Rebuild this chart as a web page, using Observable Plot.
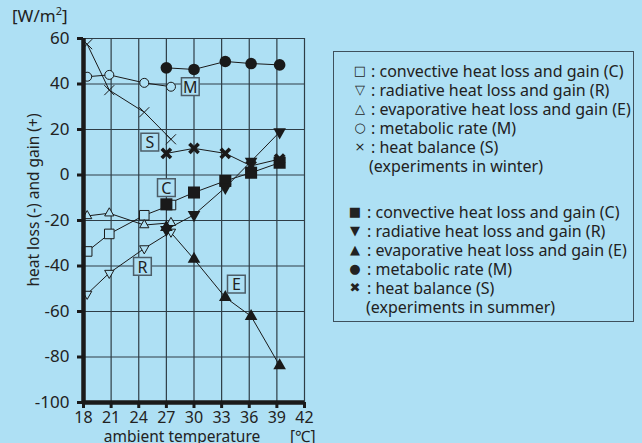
<!DOCTYPE html>
<html><head><meta charset="utf-8">
<script src="https://cdn.jsdelivr.net/npm/d3@7"></script>
<script src="https://cdn.jsdelivr.net/npm/@observablehq/plot@0.6"></script>
<style>
html,body{margin:0;padding:0;background:#aee0f4;}
#wrap{position:relative;width:642px;height:443px;overflow:hidden;font-family:"Noto Sans",sans-serif;color:#222;}
#wrap svg{position:absolute;left:0;top:0;}
.t{position:absolute;white-space:nowrap;font-size:16px;line-height:18px;}
#legend{position:absolute;left:333px;top:51px;width:301px;height:271px;border:1.5px solid #3e505c;box-sizing:border-box;}
.sym{position:absolute;width:14px;text-align:center;font-size:13px;line-height:18px;font-family:"DejaVu Sans",sans-serif;}
</style></head><body>
<div id="wrap"></div>
<script>
// ---- data ----
const winterTemp = [18.4, 20.8, 24.6, 27.5];
const winterC = [-33.6, -25.9, -17.7, -13.2];
const winterR = [-52.3, -43.1, -32.3, -25.0];
const winterE = [-18.0, -16.8, -22.0, -21.0];
const winterM = [43.2, 44.0, 40.5, 38.8];
const winterS = [57.5, 37.3, 27.6, 15.7];

const summerTemp = [27.0, 30.0, 33.4, 36.2, 39.3];
const summerC = [-12.9, -7.7, -2.6, 1.0, 5.4];
const summerR = [-24.0, -17.5, -5.5, 6.0, 18.9];
const summerE = [-23.0, -37.0, -53.8, -62.1, -83.8];
const summerM = [47.1, 46.4, 49.9, 49.0, 48.4];
const summerS = [9.5, 11.7, 9.5, 4.0, 7.0];

const labelNames = ["M", "S", "C", "R", "E"];
const labelTemp = [29.6, 25.2, 27.0, 24.4, 34.6];
const labelValue = [38.8, 14.5, -5.5, -40.2, -48.0];

const xTicks = [18, 21, 24, 27, 30, 33, 36, 39, 42];
const yTicks = [-100, -80, -60, -40, -20, 0, 20, 40, 60];

const legendWinter = [
  ["□", "convective heat loss and gain (C)"],
  ["▽", "radiative heat loss and gain (R)"],
  ["△", "evaporative heat loss and gain (E)"],
  ["○", "metabolic rate (M)"],
  ["×", "heat balance (S)"]
];
const legendSummer = [
  ["■", "convective heat loss and gain (C)"],
  ["▼", "radiative heat loss and gain (R)"],
  ["▲", "evaporative heat loss and gain (E)"],
  ["●", "metabolic rate (M)"],
  ["✖", "heat balance (S)"]
];

// ---- build tables ----
const bg = "#aee0f4";
const ink = "#1a1a1a";
const rows = (temps, vals) => temps.map((t, i) => ({t, v: vals[i]}));
const labels = labelNames.map((n, i) => ({n, t: labelTemp[i], v: labelValue[i]}));

const rOf = size => Math.sqrt(size / Math.PI);
const triUp = {draw(c, s) { const r = rOf(s), w = r * 2.1, h = r * 1.85; c.moveTo(0, -h * 2 / 3); c.lineTo(w / 2, h / 3); c.lineTo(-w / 2, h / 3); c.closePath(); }};
const triDown = {draw(c, s) { const r = rOf(s), w = r * 2.1, h = r * 1.85; c.moveTo(0, h * 2 / 3); c.lineTo(w / 2, -h / 3); c.lineTo(-w / 2, -h / 3); c.closePath(); }};
const cross = {draw(c, s) { const r = rOf(s); c.moveTo(-r, -r); c.lineTo(r, r); c.moveTo(-r, r); c.lineTo(r, -r); }};

const seriesLine = (d) => Plot.line(d, {x: "t", y: "v", stroke: ink, strokeWidth: 1});

const wC = rows(winterTemp, winterC), wR = rows(winterTemp, winterR), wE = rows(winterTemp, winterE), wM = rows(winterTemp, winterM), wS = rows(winterTemp, winterS);
const sC = rows(summerTemp, summerC), sR = rows(summerTemp, summerR), sE = rows(summerTemp, summerE), sM = rows(summerTemp, summerM), sS = rows(summerTemp, summerS);

const grid = "#2e3d46";
const chart = Plot.plot({
  width: 642, height: 443,
  marginLeft: 83, marginRight: 338, marginTop: 38, marginBottom: 41,
  style: {background: "transparent", fontFamily: "Noto Sans, sans-serif", color: ink},
  x: {domain: [18, 42], axis: null},
  y: {domain: [-100, 60], axis: null},
  marks: [
    Plot.ruleX(xTicks, {stroke: grid, strokeWidth: 1.2}),
    Plot.ruleY(yTicks, {stroke: grid, strokeWidth: 1.2}),
    ...[wC, wR, wE, wM, wS, sC, sR, sE, sM, sS].map(seriesLine),
    // winter (open)
    Plot.dot(wS, {x: "t", y: "v", symbol: cross, r: 5, stroke: ink, strokeWidth: 1, fill: "none"}),
    Plot.dot(wC, {x: "t", y: "v", symbol: "square", r: 5.4, stroke: ink, strokeWidth: 1, fill: bg}),
    Plot.dot(wR, {x: "t", y: "v", symbol: triDown, r: 4.4, stroke: ink, strokeWidth: 1, fill: bg}),
    Plot.dot(wE, {x: "t", y: "v", symbol: triUp, r: 4.4, stroke: ink, strokeWidth: 1, fill: bg}),
    Plot.dot(wM, {x: "t", y: "v", symbol: "circle", r: 4.5, stroke: ink, strokeWidth: 1, fill: bg}),
    // summer (filled)
    Plot.dot(sM, {x: "t", y: "v", symbol: "circle", r: 5.8, fill: ink, stroke: "none"}),
    Plot.dot(sC, {x: "t", y: "v", symbol: "square", r: 6.8, fill: ink, stroke: "none"}),
    Plot.dot(sE, {x: "t", y: "v", symbol: triUp, r: 6, fill: ink, stroke: "none"}),
    Plot.dot(sR, {x: "t", y: "v", symbol: triDown, r: 6, fill: ink, stroke: "none"}),
    Plot.dot(sS, {x: "t", y: "v", symbol: cross, r: 4.6, stroke: ink, strokeWidth: 3.6, fill: "none"}),
    // boxed series labels
    Plot.dot(labels, {x: "t", y: "v", symbol: "square", r: 10, fill: bg, stroke: "#4c5d68", strokeWidth: 1.5}),
    Plot.text(labels, {x: "t", y: "v", text: "n", fontSize: 16, fill: "#222", dy: 1}),
    // axes
    Plot.ruleX([18], {stroke: ink, strokeWidth: 4.5}),
    Plot.ruleY([-100], {stroke: ink, strokeWidth: 4.5}),
    Plot.axisY(yTicks, {tickSize: 6, tickPadding: 8, strokeWidth: 3, stroke: ink, fill: "#222", fontSize: 17, tickFormat: d => String(d), label: null}),
    Plot.axisX(xTicks, {tickSize: 6, tickPadding: 3, strokeWidth: 3, stroke: ink, fill: "#222", fontSize: 16, tickFormat: d => String(d), label: null})
  ]
});

const wrap = document.getElementById("wrap");
wrap.appendChild(chart);

function addText(txt, css) {
  const d = document.createElement("div");
  d.className = "t";
  d.textContent = txt;
  Object.assign(d.style, css);
  wrap.appendChild(d);
  return d;
}
const unit = document.createElement("div");
unit.className = "t";
unit.innerHTML = "[W/m<sup style='font-size:11px;line-height:0'>2</sup>]";
Object.assign(unit.style, {left: "12px", top: "7px", fontSize: "17px"});
wrap.appendChild(unit);
addText("heat loss (-) and gain (+)", {left: "33px", top: "200px", transform: "translate(-50%,-50%) rotate(-90deg)", fontSize: "15.5px"});
addText("ambient temperature", {left: "182px", top: "429px", lineHeight: "14px", transform: "translateX(-50%)", fontSize: "15.5px"});
addText("[℃]", {left: "290px", top: "429px", lineHeight: "14px", fontSize: "15.5px"});

const legend = document.createElement("div");
legend.id = "legend";
wrap.appendChild(legend);
function legendRows(items, top, symX, textX, noteX, note) {
  items.forEach(([s, label], i) => {
    const y = top + i * 18.9;
    const sp = document.createElement("div");
    sp.className = "sym"; sp.textContent = s;
    Object.assign(sp.style, {left: (symX - 333 - 7) + "px", top: (y - 51 - 9) + "px"});
    legend.appendChild(sp);
    const tx = document.createElement("div");
    tx.className = "t"; tx.textContent = ": " + label;
    Object.assign(tx.style, {left: (textX - 333) + "px", top: (y - 51 - 9) + "px"});
    legend.appendChild(tx);
  });
  const n = document.createElement("div");
  n.className = "t"; n.textContent = note;
  Object.assign(n.style, {left: (noteX - 333) + "px", top: (top + 5 * 18.9 - 51 - 9) + "px"});
  legend.appendChild(n);
}
legendRows(legendWinter, 70, 359, 370, 368, "(experiments in winter)");
legendRows(legendSummer, 211, 354, 366, 365, "(experiments in summer)");
</script>
</body></html>
